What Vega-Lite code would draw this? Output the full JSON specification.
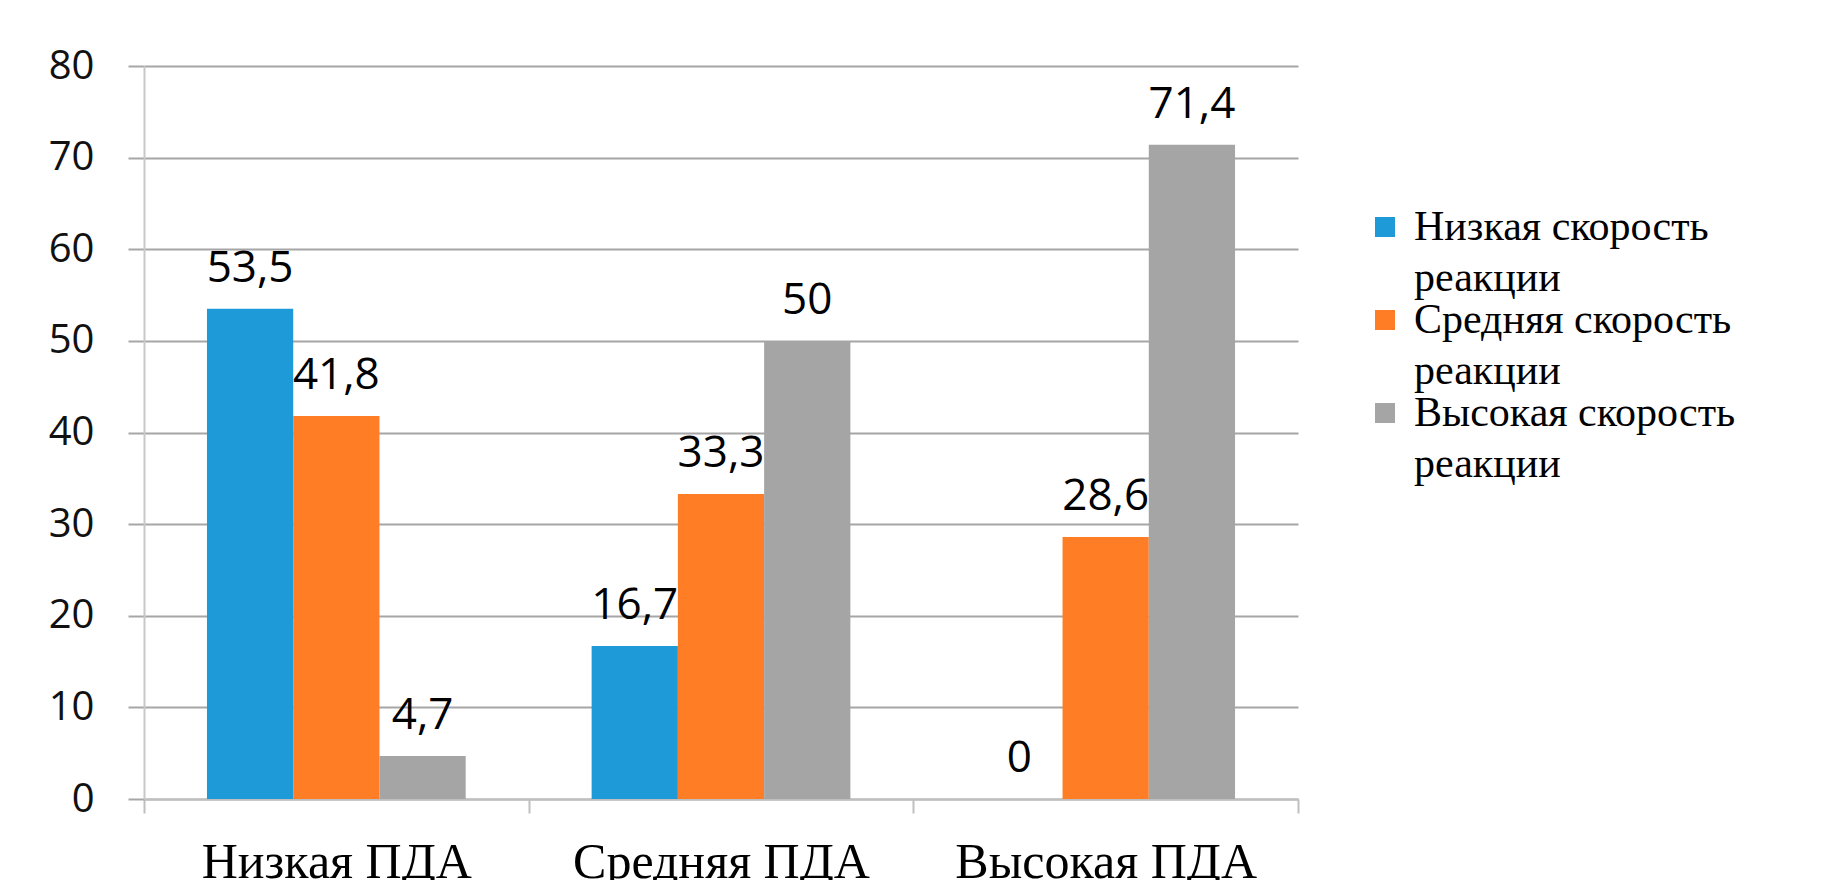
{
  "$schema": "https://vega.github.io/schema/vega-lite/v6.json",
  "width": 1154,
  "height": 733,
  "autosize": {"type": "none"},
  "padding": {"left": 144, "top": 66, "right": 523, "bottom": 81},
  "background": "white",
  "config": {
    "view": {"stroke": null},
    "locale": {"number": {"decimal": ",", "thousands": " ", "grouping": [3], "currency": ["", ""]}}
  },
  "data": {
    "values": [
      {"cat": "Низкая ПДА", "series": "Низкая скорость реакции", "value": 53.5},
      {"cat": "Низкая ПДА", "series": "Средняя скорость реакции", "value": 41.8},
      {"cat": "Низкая ПДА", "series": "Высокая скорость реакции", "value": 4.7},
      {"cat": "Средняя ПДА", "series": "Низкая скорость реакции", "value": 16.7},
      {"cat": "Средняя ПДА", "series": "Средняя скорость реакции", "value": 33.3},
      {"cat": "Средняя ПДА", "series": "Высокая скорость реакции", "value": 50},
      {"cat": "Высокая ПДА", "series": "Низкая скорость реакции", "value": 0},
      {"cat": "Высокая ПДА", "series": "Средняя скорость реакции", "value": 28.6},
      {"cat": "Высокая ПДА", "series": "Высокая скорость реакции", "value": 71.4}
    ]
  },
  "encoding": {
    "x": {
      "field": "cat", "type": "nominal",
      "sort": ["Низкая ПДА", "Средняя ПДА", "Высокая ПДА"],
      "scale": {"paddingInner": 0, "paddingOuter": 0},
      "axis": {
        "title": null, "labelAngle": 0, "labelFont": "Liberation Serif", "labelFontSize": 50,
        "labelColor": "#000000", "labelLimit": 0, "domainColor": "#bfbfbf", "domainWidth": 2,
        "ticks": true, "tickBand": "extent", "tickSize": 14, "tickColor": "#bfbfbf", "tickWidth": 2,
        "labelPadding": 24, "grid": false
      }
    },
    "xOffset": {
      "field": "series", "type": "nominal",
      "sort": ["Низкая скорость реакции", "Средняя скорость реакции", "Высокая скорость реакции"],
      "scale": {"paddingOuter": 0.73, "paddingInner": 0}
    },
    "y": {
      "field": "value", "type": "quantitative",
      "scale": {"domain": [0, 80], "nice": false},
      "axis": {
        "title": null, "values": [0, 10, 20, 30, 40, 50, 60, 70, 80],
        "labelFont": "Open Sans", "labelFontSize": 40, "labelColor": "#111111",
        "domainColor": "#c8c8c8", "domainWidth": 2,
        "tickSize": 16, "tickColor": "#a6a6a6", "tickWidth": 2,
        "labelPadding": 34, "grid": true, "gridColor": "#a6a6a6", "gridWidth": 2
      }
    }
  },
  "layer": [
    {
      "mark": {"type": "bar"},
      "encoding": {
        "color": {
          "field": "series", "type": "nominal",
          "sort": ["Низкая скорость реакции", "Средняя скорость реакции", "Высокая скорость реакции"],
          "scale": {
            "domain": ["Низкая скорость реакции", "Средняя скорость реакции", "Высокая скорость реакции"],
            "range": ["#1e9ad8", "#fe7d25", "#a5a5a5"]
          },
          "legend": {
            "title": null, "orient": "none", "legendX": 1220, "legendY": 140,
            "symbolType": "square", "symbolSize": 400, "symbolStrokeWidth": 0,
            "labelFont": "Liberation Serif", "labelFontSize": 42,
            "labelColor": "#000000", "labelLimit": 0, "labelOffset": 8, "rowPadding": -6,
            "labelExpr": "[split(datum.label, ' реакции')[0], 'реакции']",
            "encode": {"labels": {"update": {"lineHeight": {"value": 51}}}}
          }
        }
      }
    },
    {
      "mark": {"type": "text", "baseline": "alphabetic", "dy": -27, "font": "Open Sans", "fontSize": 44, "color": "#000000"},
      "encoding": {
        "text": {"field": "value", "type": "quantitative", "format": ".1~f"}
      }
    }
  ]
}
